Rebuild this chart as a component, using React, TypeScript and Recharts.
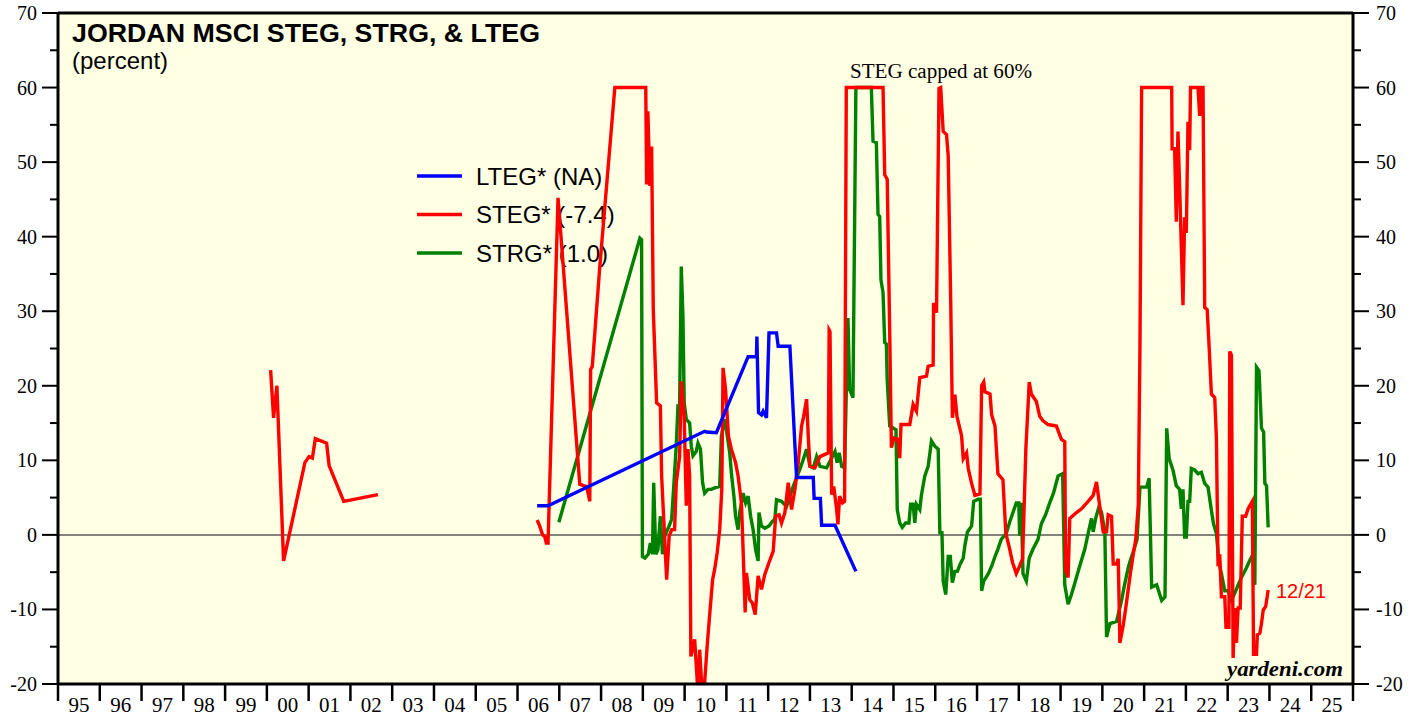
import React from 'react';
import { LineChart, Line, XAxis, YAxis, CartesianGrid, ReferenceLine } from 'recharts';

// chart box (page coords, wrapper pinned at 0,0)
const W = 1419;
const H = 717;
const LEFT = 58;
const RIGHT = 66;
const TOP = 13;
const BOTTOM = 33;
const PX_PER_YEAR = (W - LEFT - RIGHT) / 31;

const SANS = '"Liberation Sans", Arial, sans-serif';
const SERIF = '"Liberation Serif", "Times New Roman", serif';

const yearTicks = [
  1995, 1996, 1997, 1998, 1999, 2000, 2001, 2002, 2003, 2004, 2005, 2006, 2007, 2008, 2009, 2010,
  2011, 2012, 2013, 2014, 2015, 2016, 2017, 2018, 2019, 2020, 2021, 2022, 2023, 2024, 2025, 2026,
];
const valueTicks = [-20, -15, -10, -5, 0, 5, 10, 15, 20, 25, 30, 35, 40, 45, 50, 55, 60, 65, 70];

// [year, percent]
const ltegPoints: [number, number | null][] = [
  [2006.47, 3.9], [2006.73, 3.9], [2010.48, 13.9], [2010.52, 13.8], [2010.76, 13.7],
  [2011.52, 23.9], [2011.72, 23.9], [2011.73, 26.6], [2011.77, 16.4], [2011.84, 16.1],
  [2011.88, 16.6], [2011.96, 15.7], [2012.02, 27.1], [2012.2, 27.1], [2012.24, 25.3],
  [2012.52, 25.3], [2012.68, 7.7], [2013.08, 7.7], [2013.1, 4.9], [2013.25, 4.9],
  [2013.28, 1.3], [2013.6, 1.3], [2014.1, -4.9],
];

const stegPoints: [number, number | null][] = [
  [2000.09, 22.1], [2000.16, 15.7], [2000.24, 20.0], [2000.4, -3.5], [2000.91, 9.7],
  [2001.01, 10.5], [2001.09, 10.3], [2001.16, 12.9], [2001.43, 12.3], [2001.49, 9.3],
  [2001.84, 4.5], [2002.66, 5.4], [2004.5, null],
  [2006.47, 2.0], [2006.53, 1.2], [2006.6, 0.0], [2006.65, -0.2], [2006.69, -1.1],
  [2006.73, -1.1], [2006.97, 45.2], [2007.01, 42.3], [2007.49, 6.8], [2007.58, 6.6],
  [2007.65, 6.5], [2007.69, 5.6], [2007.73, 4.5], [2007.75, 22.2], [2007.79, 22.6],
  [2007.97, 36.0], [2008.33, 60], [2009.07, 60], [2009.09, 47.0], [2009.12, 56.8],
  [2009.17, 46.8], [2009.21, 52.1], [2009.25, 30.2], [2009.33, 17.7], [2009.42, 17.3],
  [2009.45, 7.9], [2009.57, -6.0], [2009.63, -0.2], [2009.69, 0.7], [2009.76, 0.7],
  [2009.8, 7.0], [2009.88, 10.5], [2009.92, 20.6], [2009.99, 15.9], [2010.04, 3.9],
  [2010.08, 11.5], [2010.12, 7.9], [2010.15, -16.3], [2010.24, -14.0], [2010.32, -21.2],
  [2010.36, -15.4], [2010.44, -23.0], [2010.54, -14.9], [2010.6, -10.7], [2010.67, -6.0],
  [2010.72, -4.6], [2010.78, -2.4], [2010.84, 0.7], [2010.89, 6.1], [2010.92, 22.4],
  [2010.98, 19.5], [2011.05, 13.2], [2011.12, 11.5], [2011.22, 9.7], [2011.28, 7.9],
  [2011.36, 4.3], [2011.4, -2.0], [2011.45, -10.4], [2011.48, -5.1], [2011.56, -8.7],
  [2011.62, -9.1], [2011.69, -10.7], [2011.76, -5.5], [2011.84, -7.3], [2011.92, -5.3],
  [2012.02, -3.7], [2012.12, -2.2], [2012.18, 2.5], [2012.26, 2.7], [2012.32, 1.6],
  [2012.4, 3.0], [2012.48, 7.0], [2012.56, 3.4], [2012.64, 6.1], [2012.72, 9.7],
  [2012.8, 14.6], [2012.85, 15.9], [2012.92, 18.2], [2012.96, 13.2], [2013.0, 9.2],
  [2013.12, 9.0], [2013.24, 10.5], [2013.44, 11.0], [2013.46, 27.5], [2013.48, 27.3],
  [2013.52, 5.4], [2013.57, 6.5], [2013.64, 3.4], [2013.67, 1.4], [2013.71, 5.2],
  [2013.78, 4.3], [2013.83, 4.5], [2013.87, 60], [2014.75, 60], [2014.79, 48.3],
  [2014.85, 47.7], [2014.91, 27.1], [2014.95, 11.7], [2015.01, 13.0], [2015.11, 12.8],
  [2015.15, 10.3], [2015.18, 14.8], [2015.39, 14.8], [2015.47, 17.5], [2015.55, 16.6],
  [2015.63, 21.1], [2015.79, 21.3], [2015.83, 22.6], [2015.95, 22.8], [2015.96, 31.1],
  [2016.03, 29.8], [2016.09, 59.9], [2016.13, 60], [2016.19, 54.1], [2016.27, 53.7],
  [2016.31, 50.8], [2016.37, 31.3], [2016.41, 15.7], [2016.47, 18.8], [2016.52, 15.9],
  [2016.63, 13.3], [2016.67, 10.2], [2016.75, 11.0], [2016.79, 8.9], [2016.87, 6.9],
  [2016.95, 5.3], [2017.07, 5.5], [2017.11, 20.0], [2017.16, 20.5], [2017.19, 19.2],
  [2017.31, 18.9], [2017.35, 16.1], [2017.43, 14.6], [2017.5, 8.2], [2017.62, 7.4],
  [2017.69, 0.2], [2017.77, -1.6], [2017.85, -3.7], [2017.94, -5.2], [2018.02, -4.2],
  [2018.09, -3.2], [2018.17, 11.7], [2018.25, 20.5], [2018.3, 18.9], [2018.42, 17.9],
  [2018.5, 15.9], [2018.58, 15.3], [2018.7, 14.8], [2018.9, 14.6], [2019.02, 12.8],
  [2019.1, 12.5], [2019.12, -4.7], [2019.18, -5.7], [2019.22, 2.2], [2019.38, 3.0],
  [2019.5, 3.5], [2019.66, 4.5], [2019.78, 5.3], [2019.86, 7.1], [2020.02, 0.4],
  [2020.1, 0.4], [2020.14, 2.7], [2020.22, 2.5], [2020.26, -3.9], [2020.34, -3.9],
  [2020.38, -3.2], [2020.42, -14.5], [2020.5, -12.1], [2020.56, -9.8], [2020.62, -7.3],
  [2020.67, -5.2], [2020.74, -2.6], [2020.8, -0.6], [2020.86, 4.0], [2020.9, 25.1],
  [2020.94, 60], [2021.66, 60], [2021.67, 51.8], [2021.73, 51.8], [2021.77, 42.0],
  [2021.81, 54.1], [2021.85, 46.7], [2021.93, 30.8], [2021.97, 42.6], [2022.01, 40.5],
  [2022.05, 55.4], [2022.09, 51.6], [2022.11, 60], [2022.29, 60], [2022.33, 56.2],
  [2022.37, 60], [2022.41, 60], [2022.45, 30.5], [2022.51, 30.2], [2022.56, 24.8],
  [2022.61, 18.9], [2022.69, 18.4], [2022.73, 13.0], [2022.77, -4.2], [2022.81, -2.6],
  [2022.85, -8.3], [2022.93, -8.3], [2022.96, -12.4], [2023.03, -12.4], [2023.05, 24.6],
  [2023.09, 24.1], [2023.13, -16.5], [2023.17, -9.8], [2023.21, -14.5], [2023.25, -9.8],
  [2023.3, -9.8], [2023.35, 2.5], [2023.43, 2.5], [2023.49, 3.5], [2023.59, 4.5],
  [2023.62, -16.0], [2023.69, -16.0], [2023.71, -13.4], [2023.77, -13.2], [2023.81, -11.9],
  [2023.85, -10.1], [2023.91, -9.6], [2023.97, -7.4],
];

const strgPoints: [number, number | null][] = [
  [2006.99, 1.7], [2008.93, 39.8], [2008.97, 39.6], [2008.99, -2.9], [2009.05, -3.1],
  [2009.13, -2.6], [2009.18, -1.1], [2009.23, -2.6], [2009.26, 7.0], [2009.31, -2.6],
  [2009.36, -2.0], [2009.42, 2.5], [2009.47, -2.6], [2009.52, -0.2], [2009.63, 1.2],
  [2009.69, 2.1], [2009.75, 7.4], [2009.8, 11.9], [2009.84, 17.3], [2009.88, 17.3],
  [2009.92, 36.0], [2009.96, 29.3], [2009.99, 17.7], [2010.04, 15.5], [2010.12, 15.0],
  [2010.16, 11.9], [2010.2, 10.6], [2010.28, 11.2], [2010.32, 12.3], [2010.38, 11.5],
  [2010.43, 7.0], [2010.48, 5.6], [2010.56, 6.1], [2010.64, 6.1], [2010.72, 6.3],
  [2010.84, 6.5], [2010.88, 13.2], [2010.96, 15.5], [2011.0, 14.1], [2011.08, 11.0],
  [2011.12, 8.3], [2011.18, 5.2], [2011.22, 2.5], [2011.28, 0.7], [2011.32, 3.0],
  [2011.4, 5.6], [2011.46, 4.3], [2011.52, 5.2], [2011.58, 2.5], [2011.64, 0.7],
  [2011.7, -2.0], [2011.76, -3.5], [2011.78, 3.0], [2011.84, 1.2], [2011.92, 0.9],
  [2012.02, 1.2], [2012.1, 1.8], [2012.16, 2.1], [2012.2, 4.7], [2012.32, 4.5],
  [2012.44, 3.8], [2012.6, 6.5], [2012.76, 8.8], [2012.84, 10.1], [2012.92, 11.5],
  [2013.0, 9.2], [2013.08, 9.0], [2013.16, 10.5], [2013.24, 9.2], [2013.4, 9.0],
  [2013.6, 11.2], [2013.65, 9.7], [2013.7, 11.0], [2013.76, 9.2], [2013.83, 9.0],
  [2013.91, 29.1], [2013.95, 19.5], [2014.03, 18.4], [2014.1, 60], [2014.47, 60],
  [2014.51, 52.8], [2014.59, 52.6], [2014.63, 43.0], [2014.67, 42.7], [2014.7, 34.2],
  [2014.75, 32.5], [2014.79, 25.8], [2014.83, 25.6], [2014.85, 20.8], [2014.91, 14.6],
  [2015.06, 14.1], [2015.09, 3.4], [2015.15, 1.6], [2015.21, 1.0], [2015.29, 1.6],
  [2015.37, 1.6], [2015.41, 4.1], [2015.47, 4.1], [2015.51, 1.6], [2015.55, 4.1],
  [2015.63, 3.4], [2015.67, 5.4], [2015.75, 7.9], [2015.83, 9.2], [2015.91, 12.6],
  [2015.99, 11.9], [2016.07, 11.5], [2016.11, 0.3], [2016.16, 0.3], [2016.19, -6.2],
  [2016.25, -8.0], [2016.31, -2.9], [2016.36, -2.9], [2016.41, -6.4], [2016.47, -4.9],
  [2016.53, -4.9], [2016.59, -4.0], [2016.67, -3.1], [2016.71, -1.4], [2016.77, 0.4],
  [2016.87, 1.2], [2016.92, 4.5], [2017.03, 4.8], [2017.08, 4.8], [2017.11, -7.5],
  [2017.16, -6.2], [2017.27, -5.2], [2017.35, -4.2], [2017.43, -2.9], [2017.5, -1.9],
  [2017.58, -0.6], [2017.7, 0.2], [2017.78, 1.7], [2017.86, 3.0], [2017.94, 4.3],
  [2018.0, 4.3], [2018.02, -0.1], [2018.06, 4.3], [2018.1, -5.2], [2018.18, -6.2],
  [2018.25, -3.1], [2018.34, -1.9], [2018.46, -0.6], [2018.54, 1.5], [2018.64, 2.7],
  [2018.74, 4.3], [2018.83, 5.6], [2018.94, 7.9], [2019.05, 8.2], [2019.1, -6.7],
  [2019.18, -9.3], [2019.26, -8.0], [2019.34, -6.5], [2019.42, -4.9], [2019.5, -3.4],
  [2019.58, -1.9], [2019.68, 0.7], [2019.74, 2.2], [2019.78, 0.4], [2019.84, 2.2],
  [2019.92, 3.8], [2019.98, 3.0], [2020.06, 0.4], [2020.1, -13.7], [2020.18, -11.9],
  [2020.34, -11.6], [2020.46, -8.8], [2020.52, -7.0], [2020.62, -4.4], [2020.67, -3.4],
  [2020.75, -2.1], [2020.83, -0.6], [2020.9, 6.4], [2021.06, 6.4], [2021.12, 7.6],
  [2021.18, -7.0], [2021.3, -6.7], [2021.42, -8.8], [2021.5, -8.3], [2021.54, 14.3],
  [2021.6, 10.2], [2021.69, 8.7], [2021.77, 6.6], [2021.85, 6.1], [2021.89, 3.5],
  [2021.93, 6.1], [2021.97, -0.3], [2022.01, -0.3], [2022.05, 4.5], [2022.09, 4.5],
  [2022.13, 8.9], [2022.21, 8.7], [2022.29, 8.2], [2022.37, 8.4], [2022.45, 6.9],
  [2022.53, 6.4], [2022.61, 3.3], [2022.66, 1.5], [2022.73, 0.2], [2022.79, -3.7],
  [2022.85, -5.2], [2022.93, -7.5], [2023.01, -7.5], [2023.09, -8.8], [2023.17, -7.8],
  [2023.25, -6.7], [2023.33, -5.7], [2023.45, -4.4], [2023.53, -3.4], [2023.61, -2.6],
  [2023.65, -6.7], [2023.69, 22.5], [2023.75, 22.0], [2023.81, 14.3], [2023.86, 13.8],
  [2023.89, 6.9], [2023.93, 6.6], [2023.97, 1.0],
];

const toRows = (pts: [number, number | null][]) => pts.map(([t, v]) => ({ t, v }));

const series = [
  { key: 'lteg', name: 'LTEG* (NA)', color: '#0000FF', rows: toRows(ltegPoints) },
  { key: 'steg', name: 'STEG* (-7.4)', color: '#FF0000', rows: toRows(stegPoints) },
  { key: 'strg', name: 'STRG* (1.0)', color: '#008000', rows: toRows(strgPoints) },
];
// draw order: green under red under blue
const drawOrder = ['strg', 'steg', 'lteg'];

const XTick = (props: any) => {
  const { x, y, payload } = props;
  const yr: number = payload.value;
  const label = String(yr % 100).padStart(2, '0');
  return (
    <g>
      <line x1={x} x2={x} y1={y} y2={y + 17} stroke="#000" strokeWidth={2.5} />
      {yr < 2026 && (
        <text x={x + PX_PER_YEAR / 2} y={y + 28} textAnchor="middle" fontFamily={SERIF} fontSize={21} fill="#000">
          {label}
        </text>
      )}
    </g>
  );
};

const YTick = (props: any) => {
  const { x, y, payload, side } = props;
  const v: number = payload.value;
  const major = v % 10 === 0;
  const len = major ? 16 : 8;
  const dir = side === 'left' ? -1 : 1;
  return (
    <g>
      <line x1={x} x2={x + dir * len} y1={y} y2={y} stroke="#000" strokeWidth={2} />
      {major && (
        <text
          x={side === 'left' ? x - 21 : x + 23}
          y={y}
          dy="0.35em"
          textAnchor={side === 'left' ? 'end' : 'start'}
          fontFamily={SERIF}
          fontSize={20}
          fill="#000"
        >
          {v}
        </text>
      )}
    </g>
  );
};

export default function App() {
  return (
    <div style={{ position: 'absolute', left: 0, top: 0, width: W, height: H, background: '#fff' }}>
      <LineChart width={W} height={H} margin={{ top: TOP, right: 0, bottom: 0, left: 0 }}>
        <CartesianGrid fill="#FFFFE3" horizontal={false} vertical={false} />
        <XAxis
          dataKey="t"
          type="number"
          domain={[1995, 2026]}
          ticks={yearTicks}
          interval={0}
          height={BOTTOM}
          tickSize={0}
          tickMargin={0}
          tick={<XTick />}
          axisLine={{ stroke: '#000', strokeWidth: 3 }}
        />
        <YAxis
          yAxisId="left"
          orientation="left"
          width={LEFT}
          domain={[-20, 70]}
          allowDataOverflow
          ticks={valueTicks}
          interval={0}
          tickSize={0}
          tickMargin={0}
          tick={<YTick side="left" />}
          axisLine={{ stroke: '#000', strokeWidth: 3 }}
        />
        <YAxis
          yAxisId="right"
          orientation="right"
          width={RIGHT}
          domain={[-20, 70]}
          allowDataOverflow
          ticks={valueTicks}
          interval={0}
          tickSize={0}
          tickMargin={0}
          tick={<YTick side="right" />}
          axisLine={{ stroke: '#000', strokeWidth: 3 }}
        />
        <ReferenceLine yAxisId="left" y={70} stroke="#000" strokeWidth={3} />
        <ReferenceLine yAxisId="left" y={0} stroke="#5a5a5a" strokeWidth={1.5} />

        <text x={72} y={42} fontFamily={SANS} fontWeight="bold" fontSize={26} textLength={468} lengthAdjust="spacingAndGlyphs" fill="#000">
          JORDAN MSCI STEG, STRG, &amp; LTEG
        </text>
        <text x={72} y={69} fontFamily={SANS} fontSize={24} fill="#000">
          (percent)
        </text>
        <text x={850} y={78} fontFamily={SERIF} fontSize={20} textLength={182} lengthAdjust="spacingAndGlyphs" fill="#000">
          STEG capped at 60%
        </text>
        {series.map((s, i) => (
          <g key={s.key}>
            <line x1={417} x2={462} y1={176 + i * 38.5} y2={176 + i * 38.5} stroke={s.color} strokeWidth={3.5} />
            <text x={476} y={176 + i * 38.5} dy="0.36em" fontFamily={SANS} fontSize={24} fill="#000">
              {s.name}
            </text>
          </g>
        ))}
        <text x={1276} y={598} fontFamily={SANS} fontSize={20} fill="#FF0000">
          12/21
        </text>
        <text x={1227} y={676} fontFamily={SERIF} fontWeight="bold" fontStyle="italic" fontSize={22} textLength={116} lengthAdjust="spacingAndGlyphs" fill="#000">
          yardeni.com
        </text>

        {drawOrder.map((k) => {
          const s = series.find((d) => d.key === k)!;
          return (
            <Line
              key={s.key}
              yAxisId="left"
              data={s.rows}
              dataKey="v"
              name={s.name}
              type="linear"
              stroke={s.color}
              strokeWidth={3.4}
              dot={false}
              activeDot={false}
              connectNulls={false}
              isAnimationActive={false}
            />
          );
        })}
      </LineChart>
    </div>
  );
}
